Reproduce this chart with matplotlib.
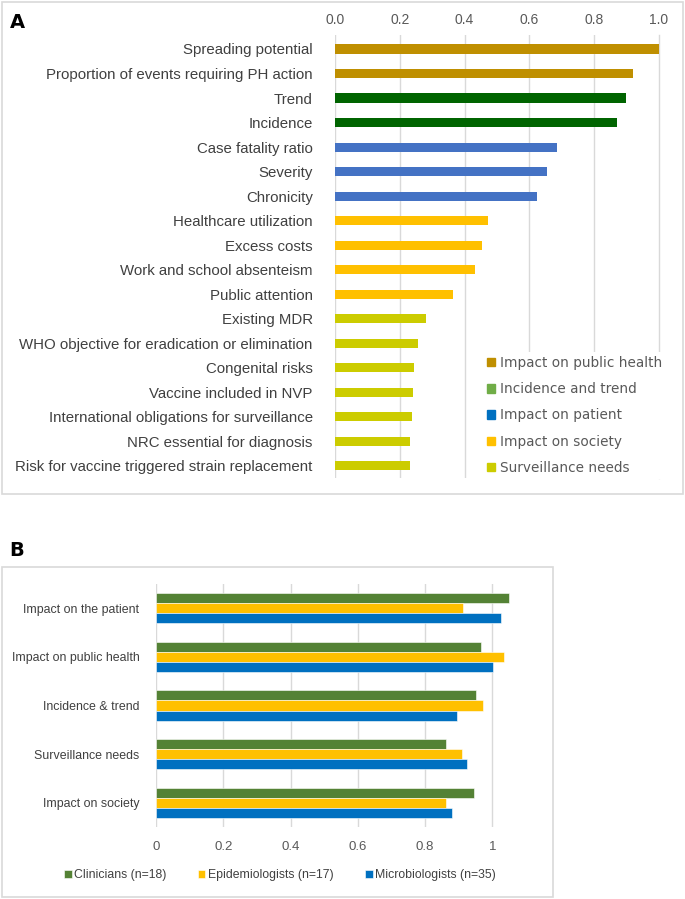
import matplotlib.pyplot as plt
from matplotlib.patches import Rectangle, Patch

# Panel A data
criterios = ["Spreading potential", "Proportion of events requiring PH action", "Trend",
             "Incidence", "Case fatality ratio", "Severity", "Chronicity",
             "Healthcare utilization", "Excess costs", "Work and school absenteism",
             "Public attention", "Existing MDR", "WHO objective for eradication or elimination",
             "Congenital risks", "Vaccine included in NVP",
             "International obligations for surveillance", "NRC essential for diagnosis",
             "Risk for vaccine triggered strain replacement"]
pesos = [1.0, 0.920, 0.899, 0.870, 0.684, 0.654, 0.623, 0.473, 0.453, 0.432,
         0.364, 0.282, 0.255, 0.245, 0.241, 0.238, 0.232, 0.230]
grupo = ["ph", "ph", "inc", "inc", "pat", "pat", "pat", "soc", "soc", "soc",
         "soc", "sur", "sur", "sur", "sur", "sur", "sur", "sur"]
grupos_leyenda = ["Impact on public health", "Incidence and trend", "Impact on patient",
                  "Impact on society", "Surveillance needs"]

# Panel B data
dominios = ["Impact on the patient", "Impact on public health", "Incidence & trend",
            "Surveillance needs", "Impact on society"]
clinicos = [1.048, 0.966, 0.952, 0.862, 0.945]
epidemiologos = [0.914, 1.034, 0.971, 0.910, 0.861]
microbiologos = [1.027, 1.003, 0.896, 0.925, 0.881]
series_b = ["Clinicians (n=18)", "Epidemiologists (n=17)", "Microbiologists (n=35)"]

color_bar = {"ph": "#BF8F00", "inc": "#006400", "pat": "#4472C4", "soc": "#FFC000", "sur": "#CCCC00"}
color_leg = ["#BF8F00", "#70AD47", "#0070C0", "#FFC000", "#CCCC00"]
colores_b = ["#548235", "#FFC000", "#0070C0"]

fuente = ["Liberation Sans", "DejaVu Sans"]
W, H = 685, 899

fig = plt.figure(figsize=(W / 100, H / 100), dpi=100)

def fx(px):
    return px / W

def fy(py):
    return 1 - py / H

# marcos de los paneles
fig.patches.append(Rectangle((fx(2), fy(494)), fx(681), 492 / H, transform=fig.transFigure,
                             fill=False, edgecolor="#D9D9D9", lw=1.2))
fig.patches.append(Rectangle((fx(2), fy(897)), fx(551), 330 / H, transform=fig.transFigure,
                             fill=False, edgecolor="#D9D9D9", lw=1.2))

# ---------- Panel A ----------
axA = fig.add_axes([fx(335), fy(478), fx(324), 443 / H])
pos = list(range(len(criterios)))
axA.barh(pos, pesos, height=0.37, color=[color_bar[g] for g in grupo], zorder=2)
axA.set_xlim(0, 1.0)
axA.set_ylim(len(criterios) - 0.5, -0.57)
axA.set_xticks([0, 0.2, 0.4, 0.6, 0.8, 1.0])
axA.set_xticklabels(["0.0", "0.2", "0.4", "0.6", "0.8", "1.0"], family=fuente, fontsize=10, color="#595959")
axA.xaxis.tick_top()
axA.set_yticks(pos)
axA.set_yticklabels(criterios, family=fuente, fontsize=10.8, color="#404040")
axA.tick_params(length=0)
axA.tick_params(axis="x", pad=6)
axA.tick_params(axis="y", pad=16)
axA.grid(axis="x", color="#D9D9D9", lw=1, zorder=0)
for s in axA.spines.values():
    s.set_visible(False)
axA.xaxis.get_gridlines()[-1].set_clip_on(False)

handles = [Patch(color=c) for c in color_leg]
legA = fig.legend(handles, grupos_leyenda, loc="upper left", bbox_to_anchor=(fx(476), fy(345)),
                  prop={"family": "DejaVu Sans", "size": 9.8}, labelcolor="#595959",
                  handlelength=0.6, handleheight=0.6, handletextpad=0.35, labelspacing=0.9,
                  frameon=True, facecolor="white", edgecolor="none", framealpha=1, borderpad=0.3,
                  fancybox=False)

fig.text(fx(17), fy(22), "A", fontsize=14, fontweight="bold", va="center", ha="center")

# ---------- Panel B ----------
axB = fig.add_axes([fx(156), fy(827), 370 / W, 243 / H])
pos_b = list(range(len(dominios)))
h = 0.206
for desp, vals, col, nom in zip([-h, 0, h], [clinicos, epidemiologos, microbiologos], colores_b, series_b):
    axB.barh([p + desp for p in pos_b], vals, height=h, color=col, label=nom,
             edgecolor="white", linewidth=0.4, zorder=2)
axB.set_xlim(0, 1.1)
axB.set_ylim(len(dominios) - 0.5, -0.5)
axB.set_xticks([0, 0.2, 0.4, 0.6, 0.8, 1.0])
axB.set_xticklabels(["0", "0.2", "0.4", "0.6", "0.8", "1"], family=fuente, fontsize=9.5, color="#595959")
axB.set_yticks(pos_b)
axB.set_yticklabels(dominios, family=fuente, fontsize=8.9, color="#404040")
axB.tick_params(length=0)
axB.tick_params(axis="x", pad=10)
axB.tick_params(axis="y", pad=12)
axB.grid(axis="x", color="#D9D9D9", lw=1, zorder=0)
for s in axB.spines.values():
    s.set_visible(False)

hb, lb = axB.get_legend_handles_labels()
fig.legend(hb, lb, loc="center", bbox_to_anchor=(fx(280), fy(875)), ncol=3,
           prop={"family": fuente, "size": 8.8}, labelcolor="#404040",
           handlelength=0.6, handleheight=0.6, handletextpad=0.2, columnspacing=2.6,
           frameon=False)

fig.text(fx(17), fy(551), "B", fontsize=14, fontweight="bold", va="center", ha="center")

fig.savefig("out.png", dpi=100, facecolor="white")
